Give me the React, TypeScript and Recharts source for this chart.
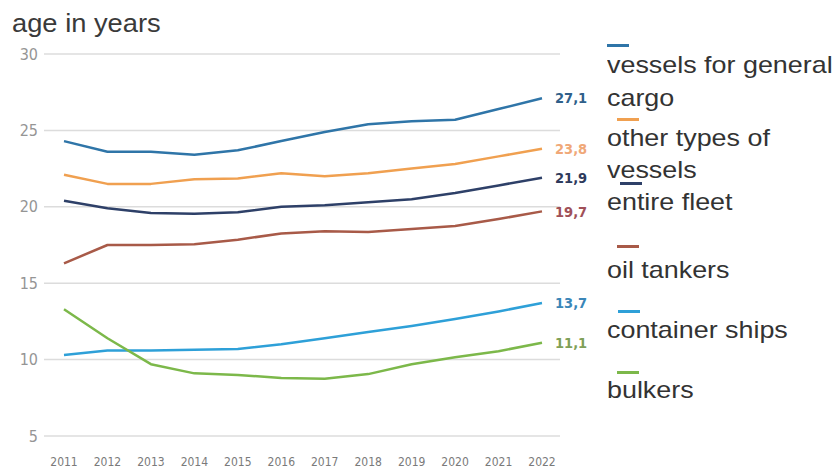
import React from "react";
import { LineChart, Line, XAxis, YAxis, CartesianGrid } from "recharts";

const years = ["2011", "2012", "2013", "2014", "2015", "2016", "2017", "2018", "2019", "2020", "2021", "2022"];
const generalCargo = [24.3, 23.6, 23.6, 23.4, 23.7, 24.3, 24.9, 25.4, 25.6, 25.7, 26.4, 27.1];
const otherTypes = [22.1, 21.5, 21.5, 21.8, 21.85, 22.2, 22.0, 22.2, 22.5, 22.8, 23.3, 23.8];
const entireFleet = [20.4, 19.9, 19.6, 19.55, 19.65, 20.0, 20.1, 20.3, 20.5, 20.9, 21.4, 21.9];
const oilTankers = [16.3, 17.5, 17.5, 17.55, 17.85, 18.25, 18.4, 18.35, 18.55, 18.75, 19.2, 19.7];
const containerShips = [10.3, 10.6, 10.6, 10.65, 10.7, 11.0, 11.4, 11.8, 12.2, 12.65, 13.15, 13.7];
const bulkers = [13.3, 11.4, 9.7, 9.1, 9.0, 8.8, 8.75, 9.05, 9.7, 10.15, 10.55, 11.1];
const yTicks = [5, 10, 15, 20, 25, 30];

const series = [
  { key: "generalCargo", values: generalCargo, color: "#2f75a8", labelColor: "#2f5f8a", name: ["vessels for general", "cargo"] },
  { key: "otherTypes", values: otherTypes, color: "#f0a050", labelColor: "#f0a878", name: ["other types of", "vessels"] },
  { key: "entireFleet", values: entireFleet, color: "#2e4068", labelColor: "#2e3a5c", name: ["entire fleet"] },
  { key: "oilTankers", values: oilTankers, color: "#a85a48", labelColor: "#a05058", name: ["oil tankers"] },
  { key: "containerShips", values: containerShips, color: "#2ea0d8", labelColor: "#3a86b8", name: ["container ships"] },
  { key: "bulkers", values: bulkers, color: "#7cb84a", labelColor: "#80a058", name: ["bulkers"] },
];

const data = years.map((y, i) => {
  const row: any = { year: y };
  series.forEach((s) => (row[s.key] = s.values[i]));
  return row;
});

// legend layout (dash y and text line centers)
const legendItems = [
  { dashX: 607, dashY: 45, lines: [65, 98] },
  { dashX: 617, dashY: 119, lines: [138, 170] },
  { dashX: 620, dashY: 183, lines: [202] },
  { dashX: 617, dashY: 246, lines: [270] },
  { dashX: 618, dashY: 311, lines: [330] },
  { dashX: 617, dashY: 372, lines: [390] },
];

const makeLabel = (s: any) => (props: any) => {
  const { x, y, index, value } = props;
  if (index !== years.length - 1) return null;
  return (
    <text
      x={x + 13}
      y={y}
      dy="0.355em"
      fill={s.labelColor}
      fontFamily="'DejaVu Sans Condensed', 'DejaVu Sans'"
      fontWeight="bold"
      fontSize={14.5}
    >
      {String(value).replace(".", ",")}
    </text>
  );
};

export default function App() {
  return (
    <div style={{ position: "absolute", left: 0, top: 0, width: 840, height: 469, background: "#fff", overflow: "hidden" }}>
      <div
        style={{
          position: "absolute",
          left: 12,
          top: 8,
          fontFamily: "'Liberation Sans', Arial, sans-serif",
          fontSize: 26,
          color: "#3a3a3a",
          whiteSpace: "nowrap",
          transform: "scaleX(1.05)",
          transformOrigin: "left",
        }}
      >
        age in years
      </div>
      <LineChart width={840} height={469} data={data} margin={{ top: 54, right: 280, bottom: 3, left: 0 }}>
        <CartesianGrid horizontal vertical={false} stroke="#dcdcdc" strokeWidth={1.5} />
        <XAxis
          dataKey="year"
          height={30}
          axisLine={false}
          tickLine={false}
          tickSize={0}
          tickMargin={21}
          padding={{ left: 20, right: 18 }}
          interval={0}
          tick={{ fill: "#7a7a7a", fontSize: 12, fontFamily: "'DejaVu Sans Condensed', 'DejaVu Sans'" }}
        />
        <YAxis
          width={44}
          domain={[5, 30]}
          ticks={yTicks}
          axisLine={false}
          tickLine={false}
          tickSize={0}
          tickMargin={6}
          tick={{ fill: "#959595", fontSize: 16, fontFamily: "'DejaVu Sans Condensed', 'DejaVu Sans'" }}
        />
        {series.map((s) => (
          <Line
            key={s.key}
            dataKey={s.key}
            type="linear"
            stroke={s.color}
            strokeWidth={2.5}
            strokeLinejoin="round"
            dot={false}
            activeDot={false}
            isAnimationActive={false}
            label={makeLabel(s)}
          />
        ))}
      </LineChart>
      {series.map((s, i) => {
        const it = legendItems[i];
        return (
          <React.Fragment key={s.key}>
            <div
              style={{
                position: "absolute",
                left: it.dashX,
                top: it.dashY - 1.5,
                width: 22,
                height: 3,
                background: s.color,
              }}
            />
            {s.name.map((ln, j) => (
              <div
                key={j}
                style={{
                  position: "absolute",
                  left: 607,
                  top: it.lines[j] - 15,
                  height: 30,
                  lineHeight: "30px",
                  fontFamily: "'Liberation Sans', Arial, sans-serif",
                  fontSize: 24,
                  color: "#333",
                  whiteSpace: "nowrap",
                  transform: "scaleX(1.12)",
                  transformOrigin: "left",
                }}
              >
                {ln}
              </div>
            ))}
          </React.Fragment>
        );
      })}
    </div>
  );
}
